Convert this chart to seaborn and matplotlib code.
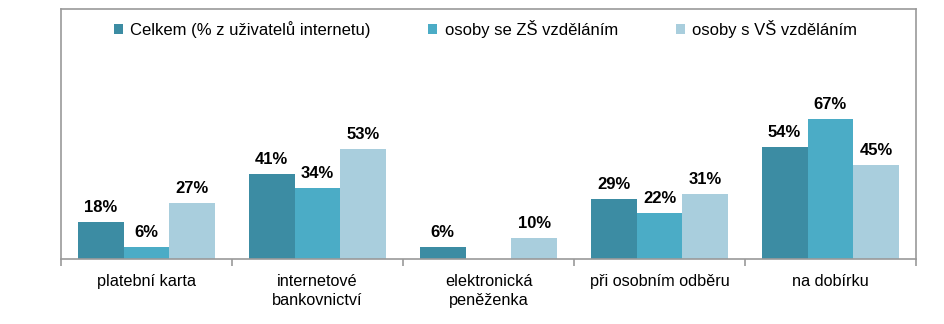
import numpy as np
import pandas as pd
import matplotlib
matplotlib.use("Agg")
import matplotlib.pyplot as plt
import seaborn as sns

categories = ["platební karta", "internetové\nbankovnictví", "elektronická\npeněženka",
              "při osobním odběru", "na dobírku"]
series_names = ["Celkem (% z uživatelů internetu)", "osoby se ZŠ vzděláním", "osoby s VŠ vzděláním"]
celkem = [18, 41, 6, 29, 54]
zs = [6, 34, np.nan, 22, 67]
vs = [27, 53, 10, 31, 45]
colors = ["#3C8CA3", "#4BACC6", "#A9CEDD"]

sns.set_theme(style="white")
plt.rcParams['font.family'] = ['Liberation Sans', 'DejaVu Sans']

df = pd.DataFrame({
    "cat": categories * 3,
    "series": sum([[s] * len(categories) for s in series_names], []),
    "val": celkem + zs + vs,
})

fig = plt.figure(figsize=(9.45, 3.24), dpi=100)
ax = fig.add_axes([61/945, 1 - 259/324, 855/945, 250/324])

sns.barplot(data=df, x="cat", y="val", hue="series", hue_order=series_names,
            order=categories, palette=colors, width=0.807, gap=0, saturation=1,
            linewidth=0, edgecolor="none",
            ax=ax, legend=True, errorbar=None)

ax.set_ylim(0, 120)
ax.set_xlim(-0.5, 4.5)
ax.set_yticks([])
ax.set_xlabel("")
ax.set_ylabel("")

for cont in ax.containers:
    for bar in cont:
        h = bar.get_height()
        if np.isnan(h) or h == 0:
            continue
        ax.annotate(f"{int(round(h))}%", (bar.get_x() + bar.get_width() / 2, h),
                    xytext=(0, 5), textcoords="offset points", ha="center", va="bottom",
                    fontsize=12, fontweight="bold", color="#000000")

ax.set_xticks(range(len(categories)))
ax.set_xticklabels(categories, fontsize=11.7, color="#000000", linespacing=1.35)
ax.tick_params(axis="x", which="major", length=0, pad=11)
ax.set_xticks(np.arange(-0.5, len(categories), 1.0), minor=True)
ax.tick_params(axis="x", which="minor", length=5, color="#9A9A9A", width=1.2, bottom=True)

for s in ["left", "right", "top", "bottom"]:
    ax.spines[s].set_visible(True)
    ax.spines[s].set_color("#9A9A9A")
    ax.spines[s].set_linewidth(1.2)

leg = ax.legend(loc="upper center", bbox_to_anchor=(0.4965, 1.0), ncol=3, frameon=False,
                fontsize=12, handlelength=0.55, handleheight=0.55, handletextpad=0.45,
                columnspacing=3.45, borderaxespad=0.25)
for t in leg.get_texts():
    t.set_color("#000000")
for h in leg.legend_handles:
    h.set_linewidth(0)

fig.savefig("out.png", dpi=100)
